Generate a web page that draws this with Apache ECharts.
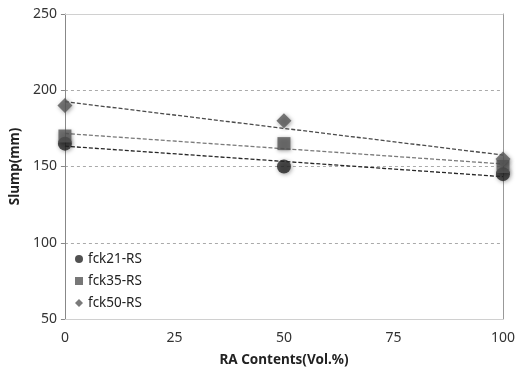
<!DOCTYPE html>
<html><head><meta charset="utf-8">
<script src="https://cdn.jsdelivr.net/npm/echarts@6/dist/echarts.min.js"></script>
<style>html,body{margin:0;padding:0;background:#fff}#c{width:518px;height:374px}</style>
</head><body><div id="c"></div>
<script>
const xValues = [0, 50, 100];
const fck21 = [165, 150, 145];
const fck35 = [170, 165, 150];
const fck50 = [190, 180, 155];
const seriesNames = ['fck21-RS', 'fck35-RS', 'fck50-RS'];
const xTicks = [0, 25, 50, 75, 100];
const yTicks = [50, 100, 150, 200, 250];

function fit(ys) {
  const n = xValues.length;
  const mx = xValues.reduce((a, b) => a + b, 0) / n;
  const my = ys.reduce((a, b) => a + b, 0) / n;
  let sxy = 0, sxx = 0;
  for (let i = 0; i < n; i++) { sxy += (xValues[i] - mx) * (ys[i] - my); sxx += (xValues[i] - mx) ** 2; }
  const m = sxy / sxx, b = my - m * mx;
  return [[xValues[0], b + m * xValues[0]], [xValues[n - 1], b + m * xValues[n - 1]]];
}
const sets = [fck21, fck35, fck50];
const symbols = ['circle', 'rect', 'diamond'];
const colors = ['#262626', '#555555', '#595959'];
const sizes = [14, 13, 15];
const lineColors = ['#262626', '#7a7a7a', '#4a4a4a'];
const series = [];
sets.forEach((ys, i) => {
  series.push({
    name: seriesNames[i], type: 'scatter', symbol: symbols[i], symbolSize: sizes[i],
    data: xValues.map((x, j) => [x, ys[j]]),
    itemStyle: { color: colors[i], shadowBlur: 4, shadowColor: 'rgba(0,0,0,0.45)', shadowOffsetX: 1, shadowOffsetY: 1 },
    z: 3
  });
  series.push({
    type: 'line', data: fit(ys), symbol: 'none', silent: true,
    lineStyle: { color: lineColors[i], width: 1.3, type: [4, 2] }, z: 2
  });
});
const chart = echarts.init(document.getElementById('c'));
chart.setOption({
  animation: false,
  textStyle: { fontFamily: 'Noto Sans' },
  grid: { left: 62, right: 13, top: 14, bottom: 55 },
  legend: {
    orient: 'vertical', left: 70, top: 247, itemGap: 8, itemWidth: 8, itemHeight: 8,
    data: seriesNames.map((n, i) => ({ name: n, icon: symbols[i] })),
    textStyle: { fontSize: 13.5, color: '#222', fontFamily: 'Noto Sans' }
  },
  xAxis: [{
    type: 'value', min: xTicks[0], max: xTicks[xTicks.length - 1], interval: 25,
    name: 'RA Contents(Vol.%)', nameLocation: 'middle', nameGap: 34,
    nameTextStyle: { fontSize: 13.5, fontWeight: 'bold', color: '#222' },
    axisLine: { show: true, lineStyle: { color: '#d0d0d0' } },
    axisTick: { show: false },
    axisLabel: { fontSize: 14, color: '#333', margin: 12 },
    splitLine: { show: false }
  }, {
    type: 'value', position: 'top', min: 0, max: 100,
    axisLine: { show: true, onZero: false, lineStyle: { color: '#d0d0d0' } },
    axisTick: { show: false }, axisLabel: { show: false }, splitLine: { show: false }
  }],
  yAxis: [{
    type: 'value', min: yTicks[0], max: yTicks[yTicks.length - 1], interval: 50,
    name: 'Slump(mm)', nameLocation: 'middle', nameGap: 41,
    nameTextStyle: { fontSize: 13.5, fontWeight: 'bold', color: '#222' },
    axisLine: { show: true, onZero: false, lineStyle: { color: '#888' } },
    axisTick: { show: true, length: 4, lineStyle: { color: '#888' } },
    axisLabel: { fontSize: 14, color: '#333', margin: 8 },
    splitLine: { show: true, lineStyle: { color: '#aaa', type: [3, 3], width: 1 } }
  }, {
    type: 'value', position: 'right', min: 50, max: 250,
    axisLine: { show: true, onZero: false, lineStyle: { color: '#999' } },
    axisTick: { show: false }, axisLabel: { show: false }, splitLine: { show: false }
  }],
  series: series
});
</script></body></html>
